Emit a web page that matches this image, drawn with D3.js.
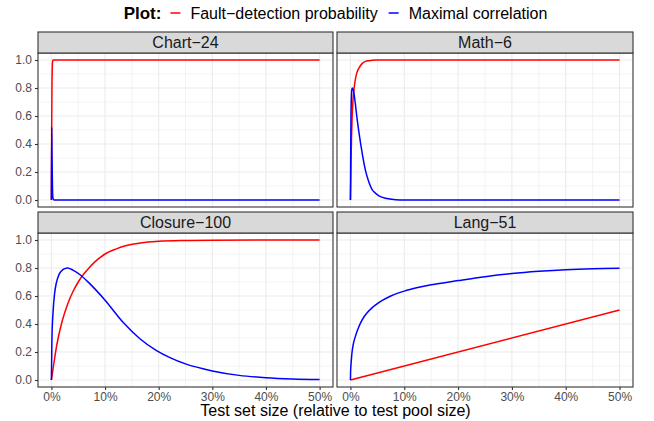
<!DOCTYPE html>
<html>
<head>
<meta charset="utf-8">
<script src="https://cdn.jsdelivr.net/npm/d3@7"></script>
<style>
  body { margin: 0; background: #fff; }
  text { font-family: 'Liberation Sans', Arial, sans-serif; }
</style>
</head>
<body>
<div id="chart"></div>
<script>
// facet names, in plot order
const facets = ['Chart\u221224', 'Math\u22126', 'Closure\u2212100', 'Lang\u221251']
const seriesNames = ['Fault\u2212detection probability', 'Maximal correlation']
const seriesColors = ['#FF0000', '#0000FF']

const xTicks = [0, 10, 20, 30, 40, 50]
const yTicks = [0, 0.2, 0.4, 0.6, 0.8, 1.0]

// test set size in percent
const chart24FaultX = [0, 0.05, 0.1, 0.15, 0.2, 0.3, 0.5, 50]
const chart24FaultY = [0, 0.5, 0.8, 0.93, 0.98, 1.0, 1.0, 1.0]
const chart24CorrX = [0, 0.05, 0.1, 0.2, 0.3, 0.5, 50]
const chart24CorrY = [0, 0.52, 0.35, 0.08, 0.01, 0, 0]

const math6FaultX = [0, 0.1, 0.2, 0.3, 0.45, 0.6, 0.9, 1.2, 1.55, 2.2, 2.8, 3.4, 4.7, 6, 50]
const math6FaultY = [0, 0.25, 0.45, 0.58, 0.7, 0.77, 0.86, 0.91, 0.94, 0.976, 0.99, 0.995, 1, 1, 1]
const math6CorrX = [0, 0.05, 0.1, 0.2, 0.3, 0.5, 0.7, 0.9, 1.2, 1.55, 1.9, 2.2, 2.8, 3.4, 4, 4.6, 5.3, 6.5, 8.4, 10, 50]
const math6CorrY = [0, 0.35, 0.6, 0.76, 0.8, 0.79, 0.75, 0.69, 0.59, 0.49, 0.4, 0.33, 0.21, 0.13, 0.076, 0.05, 0.03, 0.012, 0.002, 0, 0]

const closure100FaultX = [0, 0.5, 1, 2, 3, 4, 5, 6, 7, 8, 10, 12, 14, 16, 18, 20, 25, 30, 50]
const closure100FaultY = [0, 0.13, 0.25, 0.42, 0.54, 0.63, 0.7, 0.755, 0.8, 0.84, 0.9, 0.935, 0.96, 0.975, 0.985, 0.991, 0.997, 0.999, 1]
const closure100CorrX = [0, 0.1, 0.3, 0.6, 0.9, 1.5, 2.2, 3, 4, 5.4, 7.1, 10, 13.4, 16.5, 19.6, 22.1, 25, 30, 35, 40, 45, 50]
const closure100CorrY = [0, 0.3, 0.48, 0.62, 0.69, 0.76, 0.79, 0.8, 0.785, 0.75, 0.69, 0.57, 0.41, 0.295, 0.21, 0.16, 0.115, 0.065, 0.033, 0.016, 0.007, 0.003]

const lang51FaultX = [0, 50]
const lang51FaultY = [0, 0.5]
const lang51CorrX = [0, 0.02, 0.05, 0.1, 0.2, 0.3, 0.5, 0.9, 1.4, 1.9, 2.5, 3.1, 4, 5, 6, 7.5, 10, 12.5, 15, 20, 25, 30, 35, 40, 45, 50]
const lang51CorrY = [0, 0.05, 0.08, 0.11, 0.16, 0.2, 0.25, 0.31, 0.365, 0.41, 0.45, 0.48, 0.515, 0.545, 0.57, 0.6, 0.635, 0.66, 0.68, 0.71, 0.738, 0.76, 0.776, 0.788, 0.795, 0.798]

const facetSeries = [
  [[chart24FaultX, chart24FaultY], [chart24CorrX, chart24CorrY]],
  [[math6FaultX, math6FaultY], [math6CorrX, math6CorrY]],
  [[closure100FaultX, closure100FaultY], [closure100CorrX, closure100CorrY]],
  [[lang51FaultX, lang51FaultY], [lang51CorrX, lang51CorrY]]
]

const width = 654
const height = 421

// panel layout (ggplot facet_wrap, 2 x 2)
const cols = [[38, 333], [337, 633]]
const rows = [{ strip: 32, top: 53, bottom: 207 }, { strip: 212, top: 233, bottom: 387 }]

const svg = d3
  .select('#chart')
  .append('svg')
  .attr('width', width)
  .attr('height', height)

facets.forEach((name, i) => {
  const col = cols[i % 2]
  const row = rows[Math.floor(i / 2)]

  const xPositionScale = d3.scaleLinear().domain([-2.5, 52.5]).range(col)
  const yPositionScale = d3.scaleLinear().domain([-0.05, 1.05]).range([row.bottom, row.top])

  const g = svg.append('g')

  // panel background
  g.append('rect')
    .attr('x', col[0])
    .attr('y', row.top)
    .attr('width', col[1] - col[0])
    .attr('height', row.bottom - row.top)
    .attr('fill', '#fff')

  // minor grid
  const minorX = d3.range(5, 50, 10)
  const minorY = d3.range(0.1, 1, 0.2)
  g.selectAll('.minor-x')
    .data(minorX)
    .enter()
    .append('line')
    .attr('x1', d => xPositionScale(d))
    .attr('x2', d => xPositionScale(d))
    .attr('y1', row.top)
    .attr('y2', row.bottom)
    .attr('stroke', '#EBEBEB')
    .attr('stroke-width', 0.6)
  g.selectAll('.minor-y')
    .data(minorY)
    .enter()
    .append('line')
    .attr('y1', d => yPositionScale(d))
    .attr('y2', d => yPositionScale(d))
    .attr('x1', col[0])
    .attr('x2', col[1])
    .attr('stroke', '#EBEBEB')
    .attr('stroke-width', 0.6)

  // major grid
  g.selectAll('.major-x')
    .data(xTicks)
    .enter()
    .append('line')
    .attr('x1', d => xPositionScale(d))
    .attr('x2', d => xPositionScale(d))
    .attr('y1', row.top)
    .attr('y2', row.bottom)
    .attr('stroke', '#EBEBEB')
    .attr('stroke-width', 1.1)
  g.selectAll('.major-y')
    .data(yTicks)
    .enter()
    .append('line')
    .attr('y1', d => yPositionScale(d))
    .attr('y2', d => yPositionScale(d))
    .attr('x1', col[0])
    .attr('x2', col[1])
    .attr('stroke', '#EBEBEB')
    .attr('stroke-width', 1.1)

  // the two curves
  const line = d3
    .line()
    .x(d => xPositionScale(d[0]))
    .y(d => yPositionScale(d[1]))
    .curve(d3.curveMonotoneX)

  facetSeries[i].forEach((s, k) => {
    const pts = s[0].map((x, j) => [x, s[1][j]])
    g.append('path')
      .datum(pts)
      .attr('d', line)
      .attr('fill', 'none')
      .attr('stroke', seriesColors[k])
      .attr('stroke-width', 1.5)
  })

  // panel border
  g.append('rect')
    .attr('x', col[0])
    .attr('y', row.top)
    .attr('width', col[1] - col[0])
    .attr('height', row.bottom - row.top)
    .attr('fill', 'none')
    .attr('stroke', '#333333')
    .attr('stroke-width', 1.1)

  // strip
  g.append('rect')
    .attr('x', col[0])
    .attr('y', row.strip)
    .attr('width', col[1] - col[0])
    .attr('height', row.top - row.strip)
    .attr('fill', '#D9D9D9')
    .attr('stroke', '#333333')
    .attr('stroke-width', 1.1)
  g.append('text')
    .attr('x', (col[0] + col[1]) / 2)
    .attr('y', (row.strip + row.top) / 2)
    .attr('dy', '0.36em')
    .attr('text-anchor', 'middle')
    .attr('font-size', 16)
    .attr('fill', '#1A1A1A')
    .text(name)

  // y axis on the left column
  if (i % 2 === 0) {
    const yAxis = d3
      .axisLeft(yPositionScale)
      .tickValues(yTicks)
      .tickFormat(d3.format('.1f'))
      .tickSize(3)
      .tickPadding(3)
    g.append('g')
      .attr('class', 'axis y-axis')
      .attr('transform', 'translate(' + col[0] + ',0)')
      .call(yAxis)
  }

  // x axis on the bottom row
  if (i >= 2) {
    const xAxis = d3
      .axisBottom(xPositionScale)
      .tickValues(xTicks)
      .tickFormat(d => d + '%')
      .tickSize(3)
      .tickPadding(2)
    g.append('g')
      .attr('class', 'axis x-axis')
      .attr('transform', 'translate(0,' + row.bottom + ')')
      .call(xAxis)
  }
})

svg.selectAll('.axis .domain').remove()
svg.selectAll('.axis .tick line').attr('stroke', '#333333').attr('stroke-width', 1.1)
svg.selectAll('.axis .tick text')
  .attr('fill', '#4D4D4D')
  .attr('font-size', 12)
  .style('font-family', "'Liberation Sans', Arial, sans-serif")

// x axis title
svg.append('text')
  .attr('x', (cols[0][0] + cols[1][1]) / 2)
  .attr('y', 416)
  .attr('text-anchor', 'middle')
  .attr('font-size', 16)
  .attr('fill', '#000')
  .text('Test set size (relative to test pool size)')

// legend on top
const legend = svg.append('g')
const title = legend.append('text')
  .attr('x', 0)
  .attr('y', 13)
  .attr('dy', '0.36em')
  .attr('font-size', 17)
  .attr('font-weight', 'bold')
  .text('Plot:')

let cursor = title.node().getComputedTextLength() + 9
seriesNames.forEach((name, k) => {
  legend.append('line')
    .attr('x1', cursor)
    .attr('x2', cursor + 10)
    .attr('y1', 13)
    .attr('y2', 13)
    .attr('stroke', seriesColors[k])
    .attr('stroke-width', 1.5)
  const t = legend.append('text')
    .attr('x', cursor + 20)
    .attr('y', 13)
    .attr('dy', '0.36em')
    .attr('font-size', 16)
    .text(name)
  cursor += 20 + t.node().getComputedTextLength() + 11
})
cursor -= 11
legend.attr('transform', 'translate(' + ((cols[0][0] + cols[1][1]) / 2 - cursor / 2) + ',0)')
</script>
</body>
</html>
